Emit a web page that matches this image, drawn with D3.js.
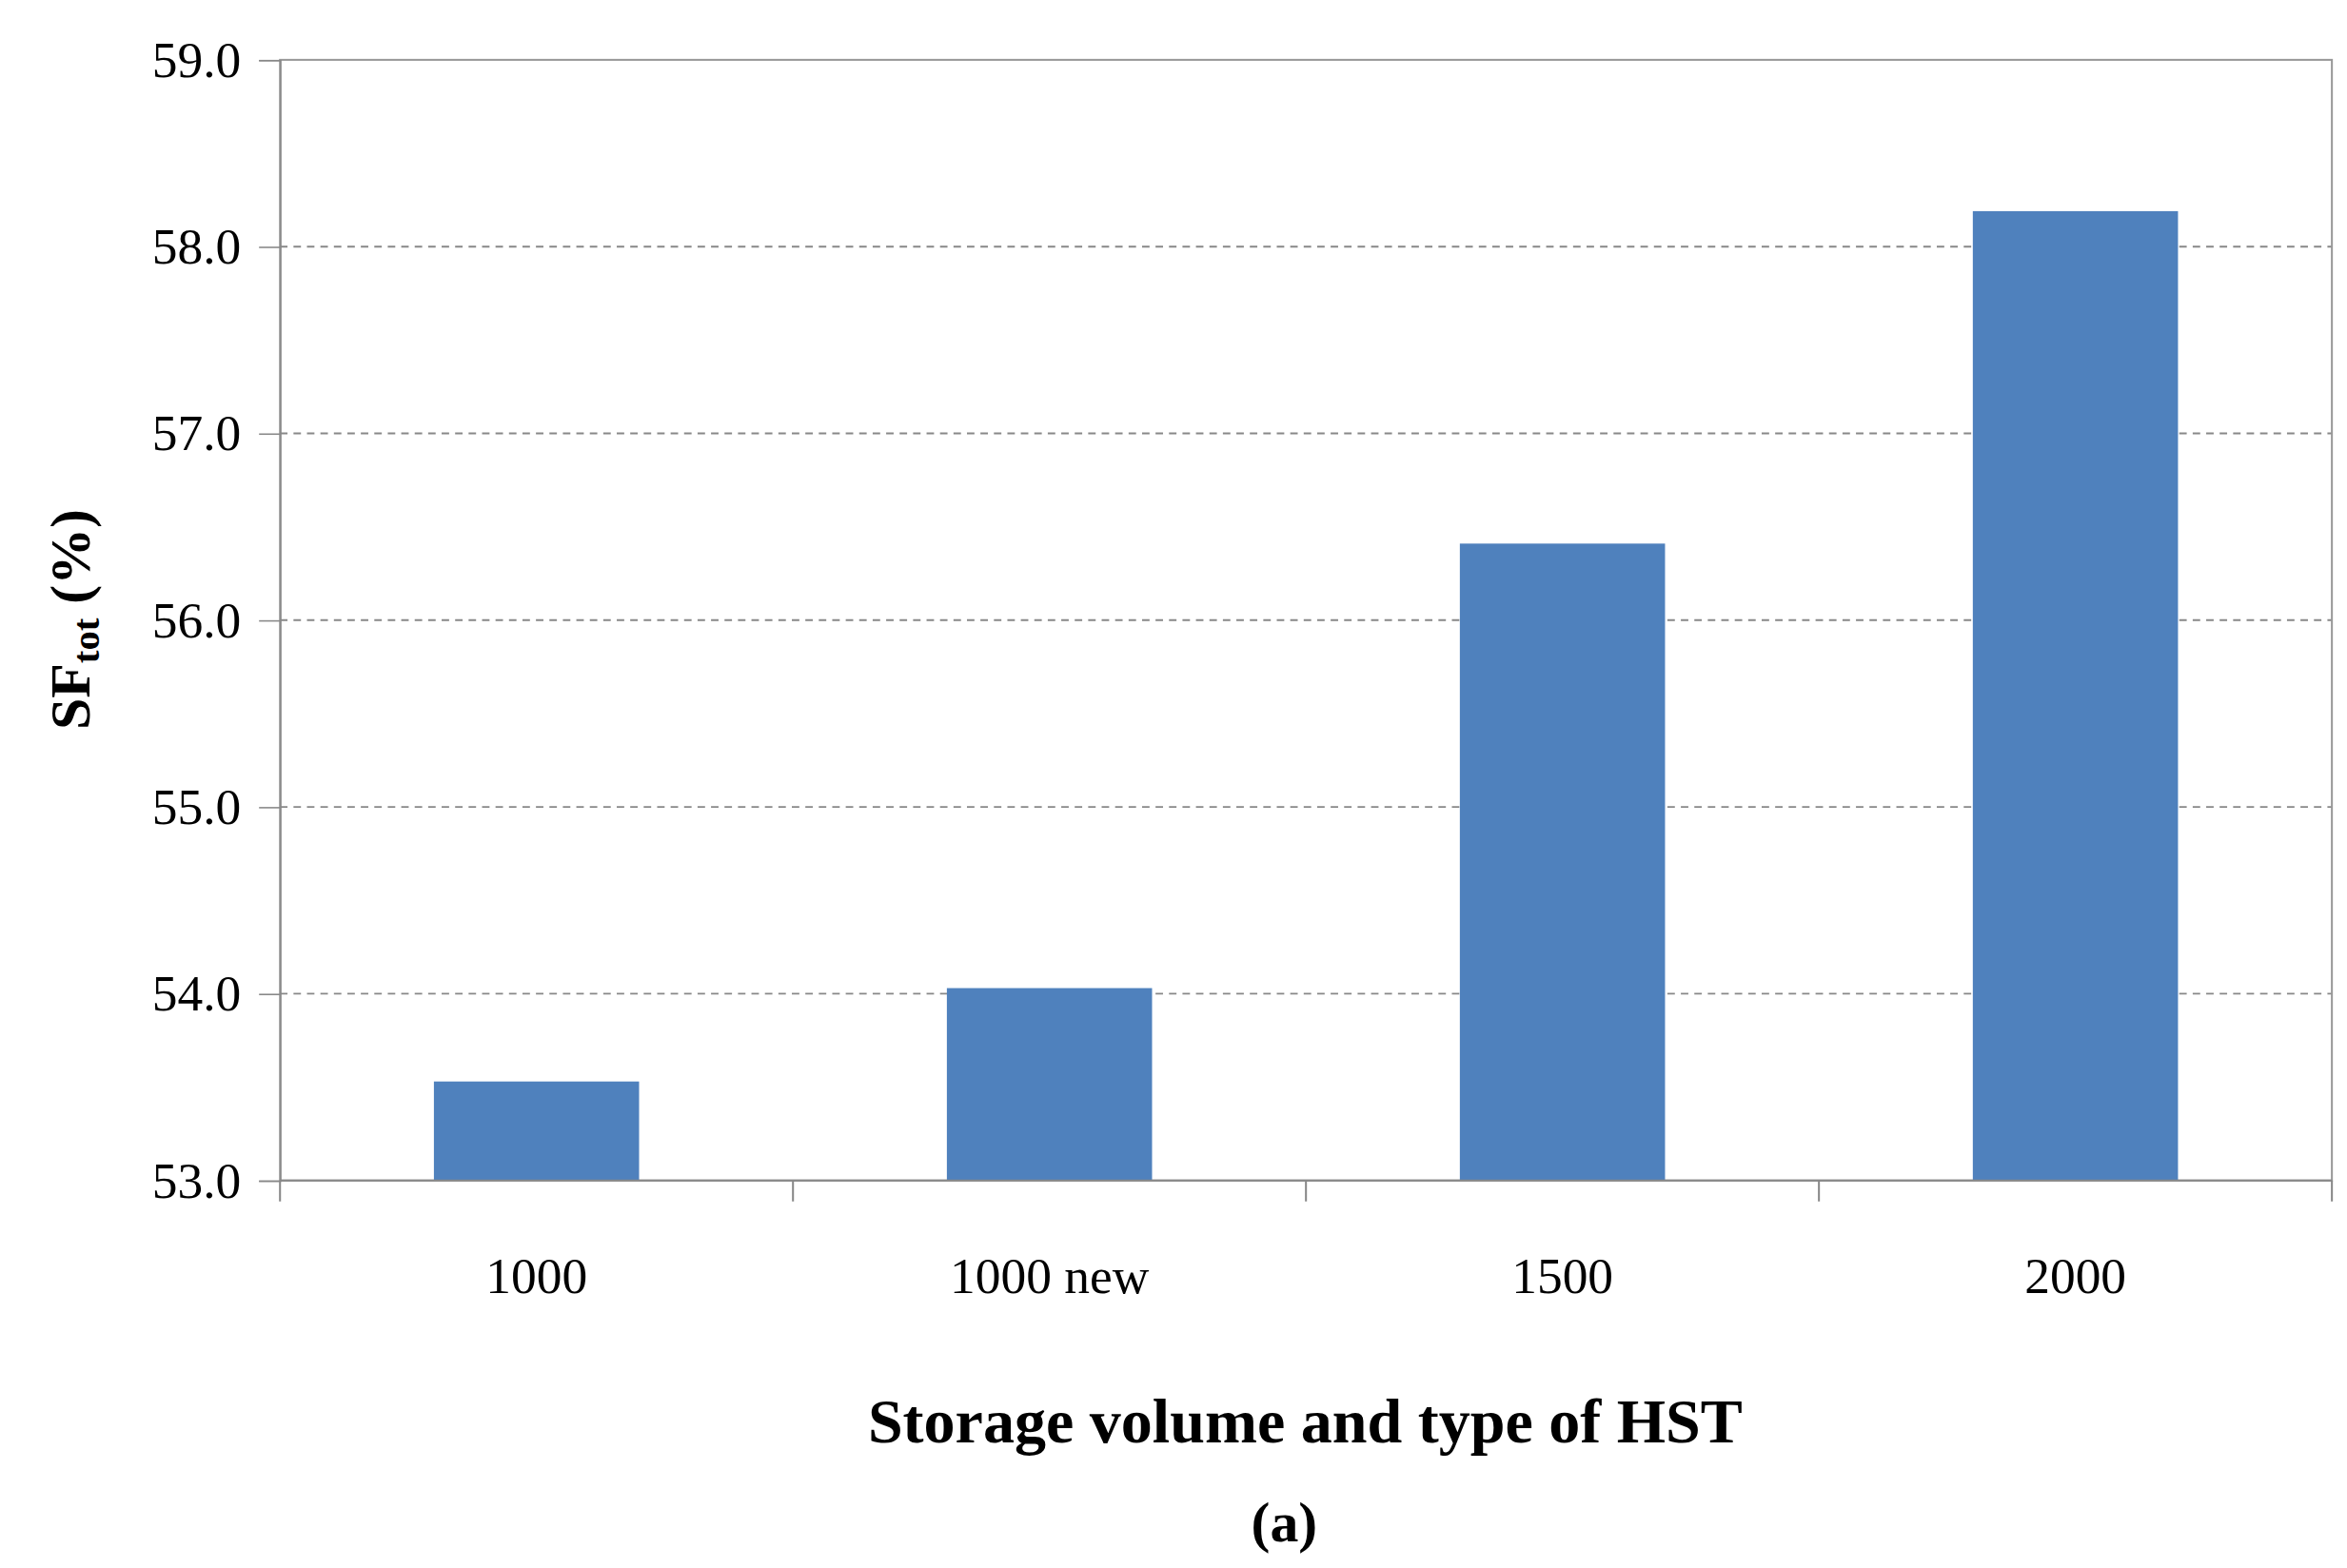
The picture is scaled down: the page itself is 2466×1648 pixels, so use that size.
<!DOCTYPE html>
<html><head><meta charset="utf-8">
<script src="https://cdn.jsdelivr.net/npm/d3@7"></script>
<style>body{margin:0;background:#fff}</style></head>
<body><svg id="c" width="2466" height="1648" viewBox="0 0 1568 1048"></svg>
<script>
const categories = ["1000","1000 new","1500","2000"];
const values = [53.53, 54.03, 56.41, 58.19];
const yTicks = [53,54,55,56,57,58,59];

const svg = d3.select("#c");
const L=187,R=1558,T=40,B=789;
const font="Liberation Serif, DejaVu Serif, serif";
const x=d3.scaleBand().domain(categories).range([L,R]).paddingInner(0.6).paddingOuter(0.3);
const y=d3.scaleLinear().domain([53,59]).range([B,T]);

// grid
svg.selectAll(".g").data(yTicks.filter(t=>t>53&&t<59)).enter().append("line")
 .attr("x1",L).attr("x2",R).attr("y1",d=>y(d)).attr("y2",d=>y(d))
 .attr("stroke","#888").attr("stroke-width",1.2).attr("stroke-dasharray","5,4");
// frame
svg.append("rect").attr("x",L).attr("y",T).attr("width",R-L).attr("height",B-T)
 .attr("fill","none").attr("stroke","#999").attr("stroke-width",1.3);
// bars
svg.selectAll(".b").data(values).enter().append("rect")
 .attr("x",(d,i)=>x(categories[i])).attr("width",x.bandwidth())
 .attr("y",d=>y(d)).attr("height",d=>B-y(d)).attr("fill","#4f81bd");
// y axis
const ya=svg.append("g").attr("transform",`translate(${L},0)`).call(d3.axisLeft(y).tickValues(yTicks).tickSize(14).tickPadding(12));
ya.select(".domain").attr("stroke","#888");
ya.selectAll("line").attr("stroke","#888");
ya.selectAll("text").attr("font-family",font).attr("font-size",34).attr("fill","#000");
// x axis
const step=(R-L)/categories.length;
const xb=[0,1,2,3,4].map(i=>L+i*step);
svg.selectAll(".xt").data(xb).enter().append("line")
 .attr("x1",d=>d).attr("x2",d=>d).attr("y1",B).attr("y2",B+14).attr("stroke","#888").attr("stroke-width",1.3);
svg.append("line").attr("x1",L).attr("x2",R).attr("y1",B).attr("y2",B).attr("stroke","#888").attr("stroke-width",1.3);
svg.selectAll(".xl").data(categories).enter().append("text")
 .attr("x",d=>x(d)+x.bandwidth()/2).attr("y",864).attr("text-anchor","middle")
 .attr("font-family",font).attr("font-size",34).text(d=>d);
// titles
svg.append("text").attr("x",872).attr("y",964).attr("text-anchor","middle")
 .attr("font-family",font).attr("font-weight","bold").attr("font-size",42).text("Storage volume and type of HST");
svg.append("text").attr("x",858).attr("y",1030).attr("text-anchor","middle")
 .attr("font-family",font).attr("font-weight","bold").attr("font-size",38).text("(a)");
const yt=svg.append("text").attr("transform","translate(60,414) rotate(-90)").attr("text-anchor","middle")
 .attr("font-family",font).attr("font-weight","bold").attr("font-size",38);
yt.append("tspan").text("SF");
yt.append("tspan").attr("font-size",26).attr("dy",6).text("tot");
yt.append("tspan").attr("dy",-6).text(" (%)");
</script></body></html>
